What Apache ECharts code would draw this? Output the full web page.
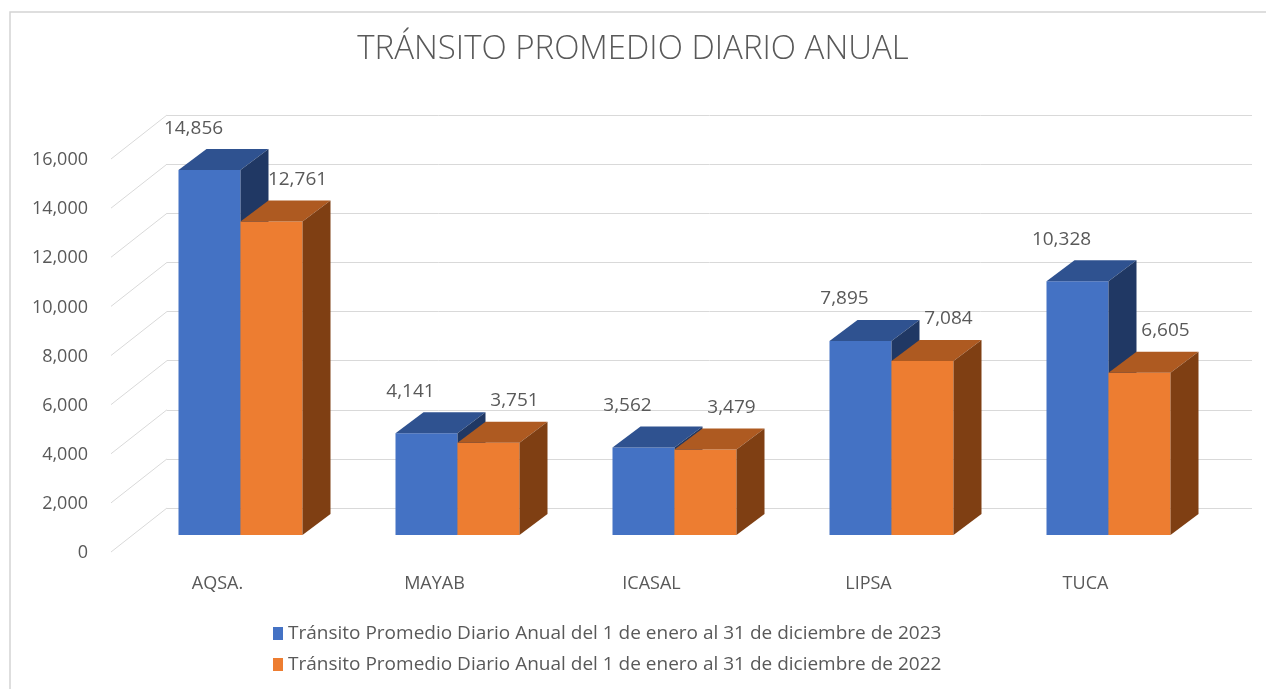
<!DOCTYPE html>
<html>
<head>
<meta charset="utf-8">
<script src="https://cdn.jsdelivr.net/npm/echarts@6/dist/echarts.min.js"></script>
<style>
  html, body { margin: 0; padding: 0; background: #fff; }
  #main { width: 1266px; height: 689px; }
</style>
</head>
<body>
<div id="main"></div>
<script>
var categories = ['AQSA.', 'MAYAB', 'ICASAL', 'LIPSA', 'TUCA'];
var values2023 = [14856, 4141, 3562, 7895, 10328];
var values2022 = [12761, 3751, 3479, 7084, 6605];
var yTicks = [0, 2000, 4000, 6000, 8000, 10000, 12000, 14000, 16000];
var seriesNames = [
    'Tránsito Promedio Diario Anual del 1 de enero al 31 de diciembre de 2023',
    'Tránsito Promedio Diario Anual del 1 de enero al 31 de diciembre de 2022'
];

// fake 3d: offsets in px
var FRONT_DX = -35, FRONT_DY = 27;   // bar front plane vs back wall
var DEPTH_DX = 28, DEPTH_DY = -21;   // bar depth
var BAR_W = 62;
var LABEL_DX = [-16, 26];
var FONT = '"Open Sans", sans-serif';

var faces = [
    {front: '#4472C4', top: '#2F5290', side: '#203864'},
    {front: '#ED7D31', top: '#AE5A21', side: '#7F3F13'}
];

function makeBox(k) {
    return function (params, api) {
        var idx = api.value(0);
        var val = api.value(1);
        var base = api.coord([idx, 0]);
        var top = api.coord([idx, val]);
        var x0 = k === 0 ? base[0] + FRONT_DX - BAR_W : base[0] + FRONT_DX;
        var x1 = x0 + BAR_W;
        var yb = base[1] + FRONT_DY;
        var yt = top[1] + FRONT_DY;
        var c = faces[k];
        return {
            type: 'group',
            children: [
                {type: 'polygon', shape: {points: [[x0, yb], [x1, yb], [x1, yt], [x0, yt]]},
                    style: {fill: c.front}},
                {type: 'polygon', shape: {points: [[x0, yt], [x1, yt], [x1 + DEPTH_DX, yt + DEPTH_DY], [x0 + DEPTH_DX, yt + DEPTH_DY]]},
                    style: {fill: c.top}},
                {type: 'polygon', shape: {points: [[x1, yt], [x1 + DEPTH_DX, yt + DEPTH_DY], [x1 + DEPTH_DX, yb + DEPTH_DY], [x1, yb]]},
                    style: {fill: c.side}},
                {type: 'text', x: (x0 + x1) / 2 + LABEL_DX[k], y: yt + DEPTH_DY - 21,
                    style: {text: echarts.format.addCommas(val), fill: '#595959', font: '19px ' + FONT,
                        align: 'center', verticalAlign: 'middle'}}
            ]
        };
    };
}

var option = {
    animation: false,
    color: ['#4472C4', '#ED7D31'],
    title: {
        text: 'TRÁNSITO PROMEDIO DIARIO ANUAL',
        left: 'center',
        top: 28,
        textStyle: {color: '#595959', fontFamily: FONT, fontSize: 33, fontWeight: 300}
    },
    legend: {
        data: seriesNames,
        orient: 'vertical',
        left: 268,
        top: 619,
        itemGap: 12,
        icon: 'rect',
        itemWidth: 10,
        itemHeight: 13,
        textStyle: {color: '#595959', fontFamily: FONT, fontSize: 19}
    },
    graphic: [{
        type: 'rect',
        shape: {x: 10, y: 12, width: 1300, height: 800},
        style: {fill: 'none', stroke: '#d4d4d4', lineWidth: 1.5},
        silent: true
    }],
    grid: [
        {left: 167, top: 115, width: 1085, height: 393},
        {left: 109, top: 160, width: 1085, height: 393}
    ],
    xAxis: [
        {type: 'category', gridIndex: 0, data: categories, show: false},
        {type: 'category', gridIndex: 1, data: categories,
            axisLine: {show: false}, axisTick: {show: false},
            axisLabel: {color: '#595959', fontFamily: FONT, fontSize: 18, margin: 22}}
    ],
    yAxis: [
        {type: 'value', gridIndex: 0, min: 0, max: 16000, interval: 2000,
            axisLabel: {show: false}, axisLine: {show: false}, axisTick: {show: false},
            splitLine: {lineStyle: {color: '#d9d9d9', width: 1}}},
        {type: 'value', gridIndex: 1, min: 0, max: 16000, interval: 2000,
            axisLine: {show: false}, axisTick: {show: false}, splitLine: {show: false},
            axisLabel: {color: '#595959', fontFamily: FONT, fontSize: 18, margin: 21,
                formatter: function (v) { return echarts.format.addCommas(v); }}}
    ],
    series: [
        {
            name: 'ticks',
            type: 'custom',
            xAxisIndex: 0, yAxisIndex: 0,
            data: yTicks.map(function (v) { return [0, v]; }),
            encode: {x: 0, y: 1},
            silent: true,
            renderItem: function (params, api) {
                var p = api.coord([0, api.value(1)]);
                var x = params.coordSys.x;
                return {type: 'line', shape: {x1: x, y1: p[1], x2: x - 56, y2: p[1] + 44},
                    style: {stroke: '#d9d9d9', lineWidth: 1}};
            }
        },
        {
            name: seriesNames[0],
            type: 'custom',
            xAxisIndex: 0, yAxisIndex: 0,
            itemStyle: {color: '#4472C4'},
            data: values2023.map(function (v, i) { return [i, v]; }),
            encode: {x: 0, y: 1},
            renderItem: makeBox(0)
        },
        {
            name: seriesNames[1],
            type: 'custom',
            xAxisIndex: 0, yAxisIndex: 0,
            itemStyle: {color: '#ED7D31'},
            data: values2022.map(function (v, i) { return [i, v]; }),
            encode: {x: 0, y: 1},
            renderItem: makeBox(1)
        }
    ]
};

var chart = echarts.init(document.getElementById('main'));
chart.setOption(option);
</script>
</body>
</html>
